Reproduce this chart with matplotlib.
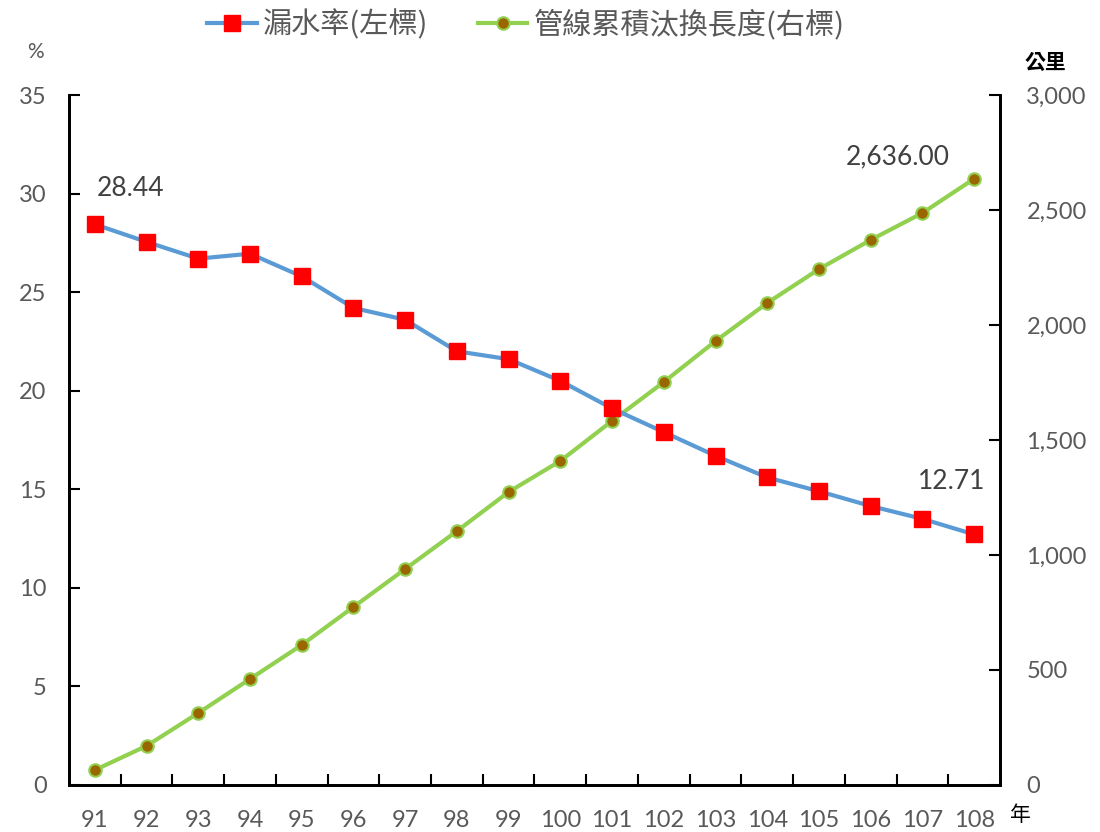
import matplotlib
matplotlib.use("Agg")
import matplotlib.pyplot as plt
from matplotlib.ticker import FuncFormatter, FixedLocator

plt.rcParams['font.family'] = ['Lato', 'Noto Sans CJK TC', 'DejaVu Sans']

# 資料
anios = ["91", "92", "93", "94", "95", "96", "97", "98", "99", "100",
         "101", "102", "103", "104", "105", "106", "107", "108"]
fuga = [28.44, 27.55, 26.7, 26.95, 25.8, 24.2, 23.6, 22.0, 21.6, 20.5,
        19.1, 17.9, 16.7, 15.6, 14.9, 14.15, 13.5, 12.71]
tuberia = [65, 170, 313, 461, 609, 774, 939, 1104, 1274, 1409,
           1583, 1752, 1930, 2096, 2243, 2370, 2487, 2636]

gris = "#595959"
x = list(range(len(anios)))

fig = plt.figure(figsize=(11, 8.32), dpi=100)
ax = fig.add_axes([0.0627, 0.0565, 0.8464, 0.8293])
ax2 = ax.twinx()

l1, = ax.plot(x, fuga, color="#5B9BD5", lw=3, marker="s", ms=11,
              mfc="#FF0000", mec="#FF0000", label="漏水率(左標)", zorder=3)
l2, = ax2.plot(x, tuberia, color="#92D050", lw=3, marker="o", ms=9,
               mfc="#996600", mec="#92D050", mew=1.5, label="管線累積汰換長度(右標)")
ax.set_zorder(ax2.get_zorder() + 1)
ax.patch.set_visible(False)

ax.set_xlim(-0.5, len(anios) - 0.5)
ax.set_ylim(0, 35)
ax2.set_ylim(0, 3000)
ax.set_yticks(range(0, 36, 5))
ax2.set_yticks(range(0, 3001, 500))
ax2.yaxis.set_major_formatter(FuncFormatter(lambda v, p: f"{int(v):,}"))

ax.set_xticks(x)
ax.set_xticklabels(anios)
ax.xaxis.set_minor_locator(FixedLocator([i + 0.5 for i in x[:-1]]))
ax.tick_params(axis="x", which="major", length=0, pad=18, labelsize=17, labelcolor=gris)
ax.tick_params(axis="x", which="minor", direction="in", length=8, width=1.5)
ax.tick_params(axis="y", direction="in", length=8, width=1.5, pad=16, labelsize=17, labelcolor=gris)
ax2.tick_params(axis="y", direction="in", length=8, width=1.5, pad=19, labelsize=17, labelcolor=gris)

for a in (ax, ax2):
    a.spines["top"].set_visible(False)
    for s in ("left", "right", "bottom"):
        a.spines[s].set_linewidth(2)

# 標籤
ax.annotate(f"{fuga[0]:.2f}", (x[0], fuga[0]), xytext=(26, 26), textcoords="offset points",
            ha="center", va="center", fontsize=19, color="#404040")
ax.annotate(f"{fuga[-1]:.2f}", (x[-1], fuga[-1]), xytext=(-16, 38), textcoords="offset points",
            ha="center", va="center", fontsize=19, color="#404040")
ax2.annotate(f"{tuberia[-1]:,.2f}", (x[-1], tuberia[-1]), xytext=(-55, 16), textcoords="offset points",
             ha="center", va="center", fontsize=19, color="#404040")

fig.text(35 / 1100, 1 - 52 / 832, "%", ha="center", va="center", fontsize=15, color=gris)
fig.text(1045 / 1100, 1 - 62 / 832, "公里", ha="center", va="center", fontsize=15, color="black",
         family=["Noto Sans CJK TC"], weight="bold")
fig.text(1020 / 1100, 1 - 815 / 832, "年", ha="center", va="center", fontsize=15, color="black",
         family=["Noto Sans CJK TC"])

fig.legend(handles=[l1, l2], loc="center", bbox_to_anchor=(0.478, 1 - 25 / 832), ncol=2,
           frameon=False, handlelength=1.7, handletextpad=0.2, columnspacing=1.7,
           prop={"family": ["Noto Sans CJK TC"], "size": 21}, labelcolor=gris)

fig.savefig("out.png", dpi=100)
